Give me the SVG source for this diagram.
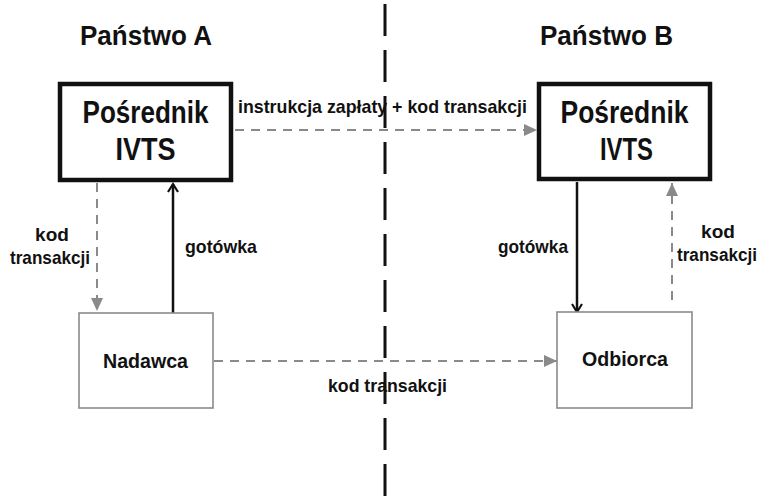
<svg xmlns="http://www.w3.org/2000/svg" width="763" height="501" viewBox="0 0 763 501">
<style>
  text { font-family: "Liberation Sans", Arial, sans-serif; font-weight: bold; fill: #111; }
  .country { font-size: 27px; }
  .big { font-size: 31px; text-anchor: middle; }
  .node { font-size: 20.5px; text-anchor: middle; }
  .lbl { font-size: 19px; }
  .thick { fill: #fff; stroke: #111; stroke-width: 4.5; }
  .thin { fill: #fff; stroke: #8a8a8a; stroke-width: 1.6; }
  .dash { fill: none; stroke: #8a8a8a; stroke-width: 2; stroke-dasharray: 9 7; }
  .solid { fill: none; stroke: #111; stroke-width: 2.5; }
</style>
<defs>
  <marker id="grayTri" markerUnits="userSpaceOnUse" markerWidth="14" markerHeight="12" refX="13" refY="6" orient="auto">
    <path d="M0,0 L13,6 L0,12 z" fill="#8a8a8a"/>
  </marker>
  <marker id="blackChev" markerUnits="userSpaceOnUse" markerWidth="12" markerHeight="12" refX="9" refY="6" orient="auto">
    <path d="M1,1 L9,6 L1,11" fill="none" stroke="#111" stroke-width="2.2"/>
  </marker>
</defs>
<rect width="763" height="501" fill="#fff"/>

<g id="border">
  <line x1="385" y1="0" x2="385" y2="501" stroke="#111" stroke-width="3" stroke-dasharray="32 14" stroke-dashoffset="-4"/>
</g>

<g id="labels-countries">
  <text class="country" x="80" y="45" textLength="132" lengthAdjust="spacingAndGlyphs">Państwo A</text>
  <text class="country" x="540" y="45" textLength="133" lengthAdjust="spacingAndGlyphs">Państwo B</text>
</g>

<g id="connectors">
  <line class="dash" x1="235" y1="130" x2="537" y2="130" marker-end="url(#grayTri)"/>
  <line class="dash" x1="97" y1="183" x2="97" y2="311" marker-end="url(#grayTri)"/>
  <line class="solid" x1="173" y1="313" x2="173" y2="184" marker-end="url(#blackChev)"/>
  <line class="solid" x1="577" y1="182" x2="577" y2="312" marker-end="url(#blackChev)"/>
  <line class="dash" x1="672" y1="300" x2="672" y2="183" marker-end="url(#grayTri)"/>
  <line class="dash" x1="214" y1="361" x2="557" y2="361" marker-end="url(#grayTri)"/>
  <text class="lbl" x="238" y="113" textLength="289" lengthAdjust="spacingAndGlyphs">instrukcja zapłaty + kod transakcji</text>
  <text class="lbl" x="52" y="241" text-anchor="middle">kod</text>
  <text class="lbl" x="10" y="264" textLength="80" lengthAdjust="spacingAndGlyphs">transakcji</text>
  <text class="lbl" x="185" y="253" textLength="72" lengthAdjust="spacingAndGlyphs">gotówka</text>
  <text class="lbl" x="498" y="253" textLength="70" lengthAdjust="spacingAndGlyphs">gotówka</text>
  <text class="lbl" x="718" y="238" text-anchor="middle">kod</text>
  <text class="lbl" x="677" y="261" style="font-size:17.5px" textLength="80" lengthAdjust="spacingAndGlyphs">transakcji</text>
  <text class="lbl" x="328" y="392" textLength="119" lengthAdjust="spacingAndGlyphs">kod transakcji</text>
</g>

<g id="posrednikA">
  <rect class="thick" x="60" y="84" width="171" height="96"/>
  <text class="big" x="145.5" y="123" textLength="126" lengthAdjust="spacingAndGlyphs">Pośrednik</text>
  <text class="big" x="145.5" y="160" textLength="60" lengthAdjust="spacingAndGlyphs">IVTS</text>
</g>

<g id="posrednikB">
  <rect class="thick" x="539" y="84" width="171" height="95"/>
  <text class="big" x="624.5" y="123" textLength="128" lengthAdjust="spacingAndGlyphs">Pośrednik</text>
  <text class="big" x="626.5" y="160" textLength="53" lengthAdjust="spacingAndGlyphs">IVTS</text>
</g>

<g id="nadawca">
  <rect class="thin" x="79" y="313" width="134" height="95"/>
  <text class="node" x="145.5" y="368" textLength="85" lengthAdjust="spacingAndGlyphs">Nadawca</text>
</g>

<g id="odbiorca">
  <rect class="thin" x="557" y="312" width="135" height="96"/>
  <text class="node" x="625" y="366" textLength="86" lengthAdjust="spacingAndGlyphs">Odbiorca</text>
</g>
</svg>
